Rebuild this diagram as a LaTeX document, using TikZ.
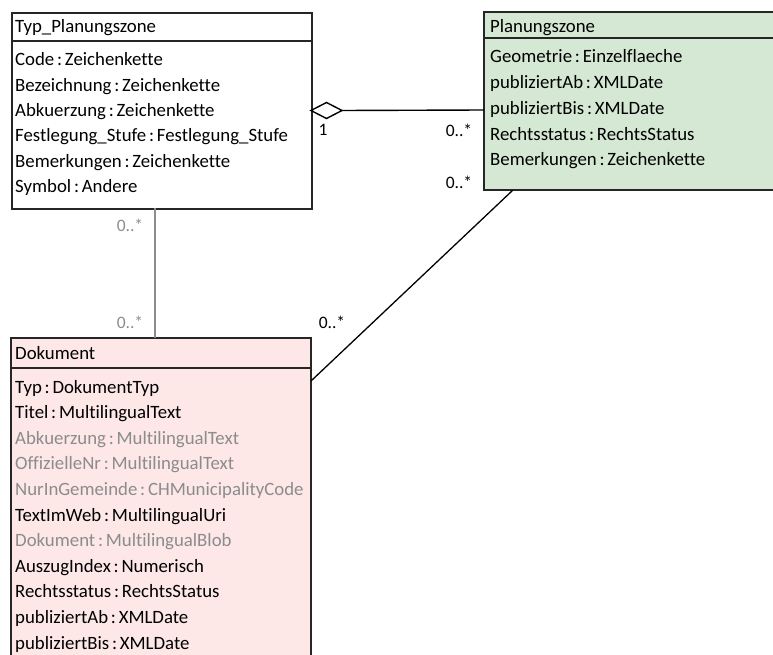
\documentclass[tikz,border=0pt]{standalone}
\usepackage{fontspec}
\setmainfont{Carlito}[Ligatures={NoCommon}]
\newcommand{\cln}{\hspace{2.8pt}:\hspace{2.8pt}}
\begin{document}
\begin{tikzpicture}[x=1pt,y=-1pt,
  boxline/.style={line width=1.6pt, draw=black!85},
  txt/.style={anchor=base west, inner sep=0pt, font=\fontsize{18.8}{20}\selectfont},
  gtxt/.style={txt, text=black!45},
  mult/.style={inner sep=0pt, font=\fontsize{17.5}{20}\selectfont},
  gmult/.style={mult, text=black!45}]
\useasboundingbox (0,0) rectangle (773,655);
% Typ_Planungszone
\node[boxline, fill=white, minimum width=300pt, minimum height=196pt, anchor=north west, inner sep=0pt] (typ) at (11,12) {};
\draw[boxline] (11,41) -- (311,41);
\node[txt] (t0) at (15,33) {Typ\_Planungszone};
\node[txt] (t1) at (15,66) {Code\cln Zeichenkette};
\node[txt] (t2) at (15,91.3) {Bezeichnung\cln Zeichenkette};
\node[txt] (t3) at (15,116.6) {Abkuerzung\cln Zeichenkette};
\node[txt] (t4) at (15,141.9) {Festlegung\_Stufe\cln Festlegung\_Stufe};
\node[txt] (t5) at (15,167.2) {Bemerkungen\cln Zeichenkette};
\node[txt] (t6) at (15,192.5) {Symbol\cln Andere};
% Planungszone
\path[boxline, fill={rgb,255:red,213;green,232;blue,212}] (776,12) -- (484,12) -- (484,190) -- (776,190);
\draw[boxline] (484,38) -- (776,38);
\coordinate (pzw) at (484,110);
\coordinate (pzb) at (513,190);
\node[txt] (p0) at (490,33) {Planungszone};
\node[txt] (p1) at (490,63) {Geometrie\cln Einzelflaeche};
\node[txt] (p2) at (490,88.7) {publiziertAb\cln XMLDate};
\node[txt] (p3) at (490,114.4) {publiziertBis\cln XMLDate};
\node[txt] (p4) at (490,140.1) {Rechtsstatus\cln RechtsStatus};
\node[txt] (p5) at (490,165.8) {Bemerkungen\cln Zeichenkette};
% Dokument
\path[boxline, fill={rgb,255:red,253;green,231;blue,231}] (11,660) -- (11,338) -- (311,338) -- (311,660);
\draw[boxline] (11,368) -- (311,368);
\coordinate (dke) at (311,381);
\coordinate (dkt) at (155,338);
\node[txt] (d0) at (15,359) {Dokument};
\node[txt] (d1) at (15,393) {Typ\cln DokumentTyp};
\node[txt] (d2) at (15,418.6) {Titel\cln MultilingualText};
\node[gtxt] (d3) at (15,444.2) {Abkuerzung\cln MultilingualText};
\node[gtxt] (d4) at (15,469.8) {OffizielleNr\cln MultilingualText};
\node[gtxt] (d5) at (15,495.4) {NurInGemeinde\cln CHMunicipalityCode};
\node[txt] (d6) at (15,521) {TextImWeb\cln MultilingualUri};
\node[gtxt] (d7) at (15,546.6) {Dokument\cln MultilingualBlob};
\node[txt] (d8) at (15,572.2) {AuszugIndex\cln Numerisch};
\node[txt] (d9) at (15,597.8) {Rechtsstatus\cln RechtsStatus};
\node[txt] (d10) at (15,623.4) {publiziertAb\cln XMLDate};
\node[txt] (d11) at (15,649) {publiziertBis\cln XMLDate};
% connectors
\coordinate (dmL) at (311,110.5);
\coordinate (dmR) at (342,110.5);
\draw[line width=1.4pt, fill=white] (dmL) -- (326.5,102.5) -- (dmR) -- (326.5,118.5) -- cycle;
\draw[line width=1.4pt] (dmR) -- (pzw);
\coordinate (typb) at (155,208);
\draw[line width=1.4pt, black!45] (typb) -- (dkt);
\draw[line width=1.3pt] (dke) -- (pzb);
% multiplicities
\node[mult] (m1) at (323,130) {1};
\node[mult] (m2) at (459,130) {0..*};
\node[mult] (m3) at (459,182) {0..*};
\node[gmult] (m4) at (130,225) {0..*};
\node[gmult] (m5) at (130,322) {0..*};
\node[mult] (m6) at (332,322) {0..*};
\end{tikzpicture}
\end{document}
